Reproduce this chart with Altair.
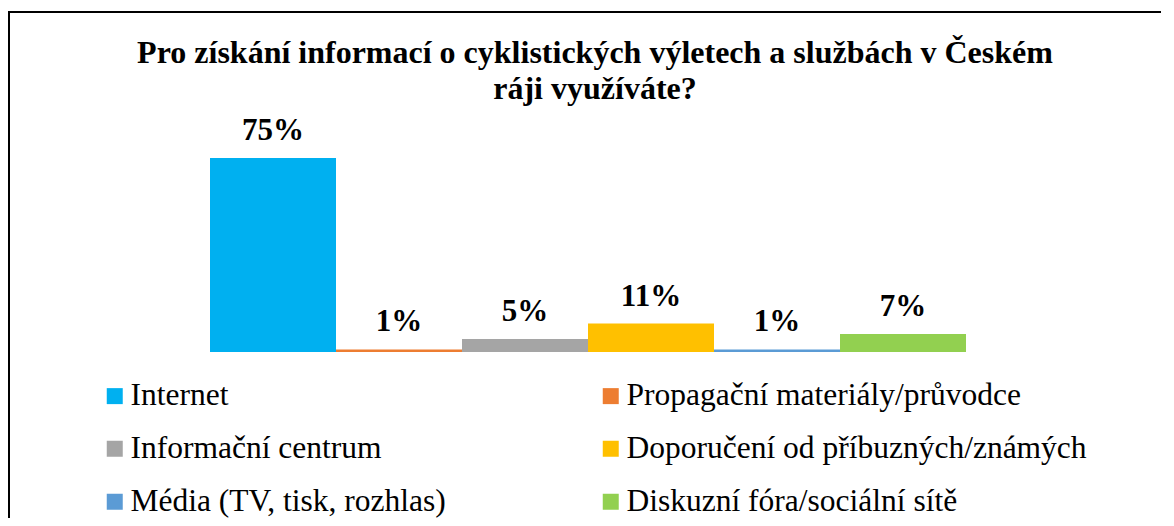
import altair as alt
import pandas as pd

categories = [
    "Internet",
    "Propagační materiály/průvodce",
    "Informační centrum",
    "Doporučení od příbuzných/známých",
    "Média (TV, tisk, rozhlas)",
    "Diskuzní fóra/sociální sítě",
]
values = [75, 1, 5, 11, 1, 7]
colors = ["#00B0F0", "#ED7D31", "#A5A5A5", "#FFC000", "#5B9BD5", "#92D050"]
title_lines = ["Pro získání informací o cyklistických výletech a službách v Českém", "ráji využíváte?"]

# legend reads row by row in the reference; Vega fills columns first
legend_order = [categories[i] for i in (0, 2, 4, 1, 3, 5)]
legend_colors = [colors[i] for i in (0, 2, 4, 1, 3, 5)]

df = pd.DataFrame({"kategorie": categories, "hodnota": values})

FONT = "Liberation Serif"

base = alt.Chart(df).encode(
    x=alt.X("kategorie:N", sort=categories, axis=None,
            scale=alt.Scale(paddingInner=0, paddingOuter=0)),
    y=alt.Y("hodnota:Q", axis=None, scale=alt.Scale(domain=[0, 75])),
)

bars = base.mark_bar().encode(
    color=alt.Color(
        "kategorie:N",
        scale=alt.Scale(domain=legend_order, range=legend_colors),
        legend=alt.Legend(
            title=None,
            orient="none",
            legendX=-111,
            legendY=222,
            columns=2,
            columnPadding=149,
            rowPadding=20,
            padding=0,
            symbolType="square",
            symbolSize=256,
            symbolStrokeWidth=0,
            labelFont=FONT,
            labelFontSize=31.5,
            labelColor="black",
            labelOffset=0,
            labelLimit=1000,
        ),
    )
)

labels = base.mark_text(
    dy=-18, baseline="alphabetic", font=FONT, fontWeight="bold", fontSize=31, color="black"
).transform_calculate(label="datum.hodnota + '%'").encode(text="label:N")

title_df = pd.DataFrame({"t": ["\n".join(title_lines)]})
title = alt.Chart(title_df).mark_text(
    font=FONT, fontWeight="bold", fontSize=32, align="center", baseline="alphabetic",
    lineBreak="\n", lineHeight=36, color="black",
).encode(text="t:N", x=alt.value(385), y=alt.value(-95))

border = alt.Chart(pd.DataFrame({"b": [0]})).mark_rect(
    fill="transparent", stroke="black", strokeWidth=2
).encode(x=alt.value(-201), y=alt.value(-146), x2=alt.value(3000), y2=alt.value(3000))

chart = alt.layer(border, bars, labels, title).properties(
    width=756,
    height=194,
    padding={"left": 202, "top": 150, "right": 195, "bottom": 166},
    autosize=alt.AutoSizeParams(type="none"),
    background="white",
).configure_view(strokeWidth=0)

chart.save("out.html", embed_options={"renderer": "svg", "actions": False})
